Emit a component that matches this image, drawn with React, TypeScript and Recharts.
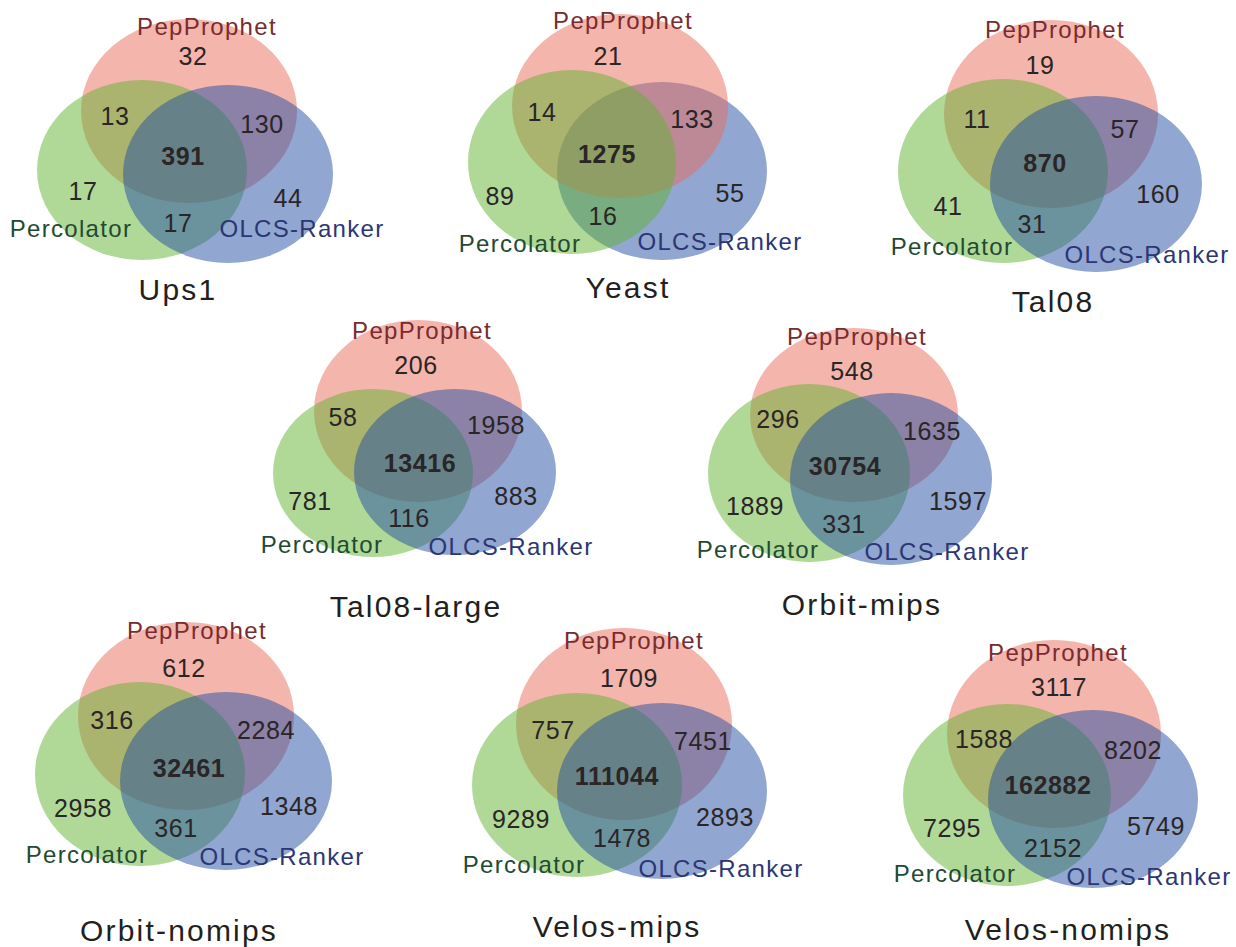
import { ScatterChart, Scatter, XAxis, YAxis } from 'recharts';

// region counts per dataset
const panels = ['Ups1', 'Yeast', 'Tal08', 'Tal08-large', 'Orbit-mips', 'Orbit-nomips', 'Velos-mips', 'Velos-nomips'];
const setNames = ['PepProphet', 'Percolator', 'OLCS-Ranker'];
const pepOnly = [32, 21, 19, 206, 548, 612, 1709, 3117];
const pepPerc = [13, 14, 11, 58, 296, 316, 757, 1588];
const pepOlcs = [130, 133, 57, 1958, 1635, 2284, 7451, 8202];
const allThree = [391, 1275, 870, 13416, 30754, 32461, 111044, 162882];
const percOnly = [17, 89, 41, 781, 1889, 2958, 9289, 7295];
const olcsOnly = [44, 55, 160, 883, 1597, 1348, 2893, 5749];
const percOlcs = [17, 16, 31, 116, 331, 361, 1478, 2152];

const W = 1236;
const H = 947;
const FONT = '"Liberation Sans", Arial, sans-serif';
const fills = ['#e96b5b', '#61b331', '#234da1'];
const inks = ['#7a2b2e', '#1f4a33', '#2b3673'];
const numInk = '#2a2526';

// layout: ellipses [cx, cy, rx, ry] for the three sets
const ellipseLayout = [
  [[189, 111, 108, 92], [142, 170, 105, 90], [228, 174, 105, 89]],
  [[620, 106, 108, 92], [572, 162, 104, 92], [662, 171, 105, 89]],
  [[1051, 114, 107, 94], [1003, 171, 105, 92], [1096, 184, 106, 88]],
  [[418, 411, 104, 91], [373, 473, 100, 84], [455, 472, 101, 83]],
  [[854, 415, 104, 87], [809, 473, 101, 89], [891, 479, 101, 86]],
  [[186, 716, 108, 94], [140, 774, 105, 92], [226, 781, 106, 89]],
  [[624, 724, 108, 96], [577, 785, 105, 92], [662, 791, 105, 88]],
  [[1054, 734, 107, 94], [1007, 795, 104, 91], [1093, 799, 105, 89]],
];

// painting order of the sets (bottom to top) for each panel
const stackOrder = [
  [0, 1, 2],
  [2, 0, 1],
  [0, 1, 2],
  [0, 1, 2],
  [0, 1, 2],
  [0, 1, 2],
  [0, 1, 2],
  [0, 1, 2],
];

// text spots [x, baseline]: pepOnly, pepPerc, pepOlcs, allThree, percOnly, olcsOnly, percOlcs, pepLabel, percLabel, olcsLabel, title
const textLayout = [
  [[193, 65], [115, 125], [262, 133], [183, 165], [83, 200], [288, 207], [178, 232], [207, 35], [71, 237], [302, 237], [178, 300]],
  [[608, 65], [542, 121], [692, 128], [607, 163], [500, 205], [730, 202], [603, 225], [623, 29], [520, 252], [720, 250], [628, 298]],
  [[1040, 74], [977, 128], [1125, 138], [1045, 172], [948, 215], [1158, 203], [1032, 233], [1055, 38], [952, 255], [1147, 263], [1053, 312]],
  [[416, 374], [343, 426], [496, 434], [420, 472], [310, 510], [516, 505], [409, 527], [422, 339], [322, 553], [511, 555], [416, 617]],
  [[852, 380], [778, 428], [932, 440], [845, 475], [755, 515], [958, 510], [844, 533], [857, 345], [758, 558], [947, 560], [862, 615]],
  [[184, 677], [112, 729], [266, 739], [189, 777], [83, 817], [289, 815], [176, 837], [197, 639], [87, 863], [282, 865], [179, 941]],
  [[629, 687], [553, 739], [703, 750], [617, 785], [521, 828], [725, 826], [622, 847], [634, 649], [524, 873], [721, 877], [617, 937]],
  [[1059, 696], [984, 748], [1133, 759], [1048, 794], [952, 837], [1156, 835], [1053, 857], [1058, 661], [955, 882], [1149, 885], [1068, 940]],
];

const regionSeries = [pepOnly, pepPerc, pepOlcs, allThree, percOnly, olcsOnly, percOlcs];

const layerPoints = (layer: number) =>
  ellipseLayout.map((e, p) => {
    const k = stackOrder[p][layer];
    return { x: e[k][0], y: e[k][1], rx: e[k][2], ry: e[k][3], fill: fills[k] };
  });

const numberPoints = panels.flatMap((_, p) =>
  regionSeries.map((series, r) => ({
    x: textLayout[p][r][0],
    y: textLayout[p][r][1],
    text: String(series[p]),
    bold: r === 3,
  }))
);

const labelPoints = panels.flatMap((_, p) =>
  setNames.map((name, s) => ({
    x: textLayout[p][7 + s][0],
    y: textLayout[p][7 + s][1],
    text: name,
    color: inks[s],
  }))
);

const titlePoints = panels.map((name, p) => ({
  x: textLayout[p][10][0],
  y: textLayout[p][10][1],
  text: name,
}));

const EllipseShape = (props: any) => (
  <ellipse
    cx={props.cx}
    cy={props.cy}
    rx={props.payload.rx}
    ry={props.payload.ry}
    fill={props.payload.fill}
    fillOpacity={0.5}
  />
);

const NumberShape = (props: any) => (
  <text
    x={props.cx}
    y={props.cy}
    textAnchor="middle"
    fontFamily={FONT}
    fontSize={25}
    letterSpacing={0.6}
    fontWeight={props.payload.bold ? 'bold' : 'normal'}
    fill={numInk}
  >
    {props.payload.text}
  </text>
);

const LabelShape = (props: any) => (
  <text
    x={props.cx}
    y={props.cy}
    textAnchor="middle"
    fontFamily={FONT}
    fontSize={24}
    letterSpacing={1.3}
    fill={props.payload.color}
  >
    {props.payload.text}
  </text>
);

const TitleShape = (props: any) => (
  <text
    x={props.cx}
    y={props.cy}
    textAnchor="middle"
    fontFamily={FONT}
    fontSize={30}
    letterSpacing={2.2}
    fill="#231f20"
  >
    {props.payload.text}
  </text>
);

export default function App() {
  return (
    <div style={{ position: 'absolute', left: 0, top: 0, width: W, height: H, background: '#ffffff' }}>
      <ScatterChart width={W} height={H} margin={{ top: 0, right: 0, bottom: 0, left: 0 }}>
        <XAxis type="number" dataKey="x" domain={[0, W]} hide allowDataOverflow />
        <YAxis type="number" dataKey="y" domain={[0, H]} reversed hide allowDataOverflow />
        {[0, 1, 2].map((layer) => (
          <Scatter
            key={`layer-${layer}`}
            name={`layer-${layer}`}
            data={layerPoints(layer)}
            shape={EllipseShape}
            isAnimationActive={false}
          />
        ))}
        <Scatter name="counts" data={numberPoints} shape={NumberShape} isAnimationActive={false} />
        <Scatter name="labels" data={labelPoints} shape={LabelShape} isAnimationActive={false} />
        <Scatter name="titles" data={titlePoints} shape={TitleShape} isAnimationActive={false} />
      </ScatterChart>
    </div>
  );
}
